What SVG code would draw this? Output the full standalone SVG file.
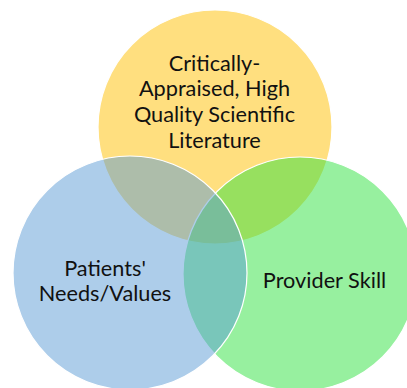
<svg xmlns="http://www.w3.org/2000/svg" width="407" height="388" viewBox="0 0 407 388">
<style>
.c{stroke:#ffffff;stroke-width:1.2;fill-opacity:0.5}
.t{font-family:Lato,"Open Sans","Noto Sans",sans-serif;font-size:21.7px;fill:#111111;text-anchor:middle}
</style>
<rect width="407" height="388" fill="#ffffff"/>
<g id="literature">
<circle class="c" cx="215" cy="127" r="117" fill="#FFC000"/>
</g>
<g id="provider">
<circle class="c" cx="300" cy="274" r="117" fill="#2FE23F"/>
</g>
<g id="patients">
<circle class="c" cx="130" cy="273" r="117" fill="#5B9BD5"/>
</g>
<g id="labels">
<text class="t" x="214.5" y="70.5">Critically-</text>
<text class="t" x="214.5" y="96">Appraised, High</text>
<text class="t" x="214.5" y="121.5">Quality Scientific</text>
<text class="t" x="214.5" y="147.5">Literature</text>
<text class="t" x="105" y="276">Patients'</text>
<text class="t" x="105" y="301">Needs/Values</text>
<text class="t" x="324.5" y="288">Provider Skill</text>
</g>
<g id="connectors"/>
</svg>
